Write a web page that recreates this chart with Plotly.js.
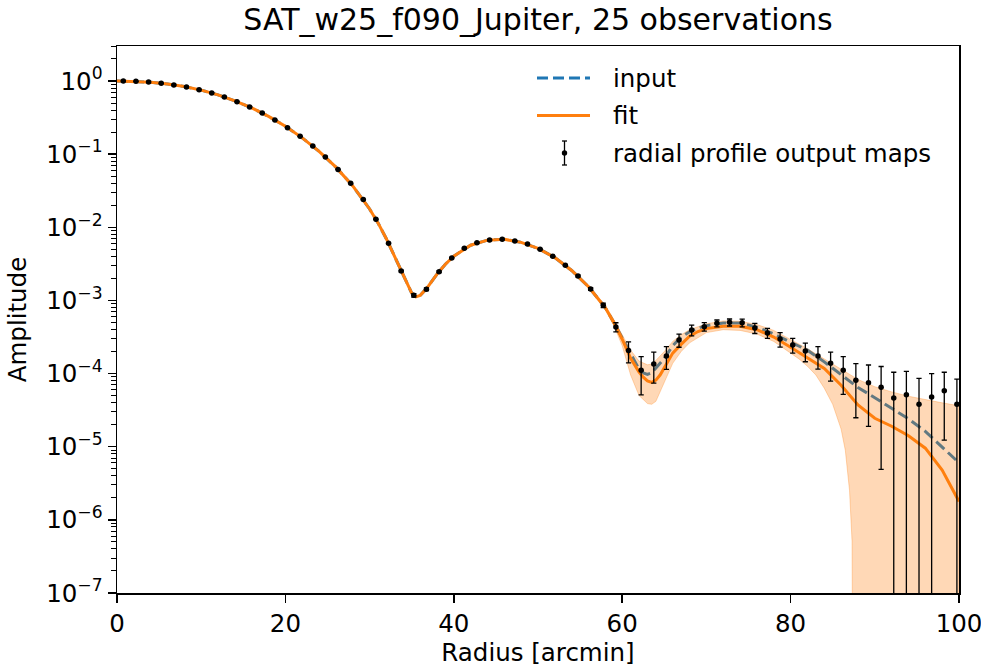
<!DOCTYPE html>
<html>
<head>
<meta charset="utf-8">
<script src="https://cdn.plot.ly/plotly-3.0.1.min.js"></script>
<style>
  html, body { margin: 0; padding: 0; background: #fff; }
  #chart { width: 981px; height: 671px; }
</style>
</head>
<body>
<div id="chart"></div>
<script>
// ---------- data ----------
// radial profile of the output maps (points with error bars)
var rData = [0.75, 2.25, 3.75, 5.25, 6.75, 8.25, 9.75, 11.25, 12.75, 14.25, 15.75, 17.25, 18.75, 20.25,
  21.75, 23.25, 24.75, 26.25, 27.75, 29.25, 30.75, 32.25, 33.75, 35.25, 36.75, 38.25, 39.75, 41.25,
  42.75, 44.25, 45.75, 47.25, 48.75, 50.25, 51.75, 53.25, 54.75, 56.25, 57.75, 59.25, 60.75, 62.25,
  63.75, 65.25, 66.75, 68.25, 69.75, 71.25, 72.75, 74.25, 75.75, 77.25, 78.75, 80.25, 81.75, 83.25,
  84.75, 86.25, 87.75, 89.25, 90.75, 92.25, 93.75, 95.25, 96.75, 98.25, 99.75];
var profileData = [1.000, 0.989, 0.969, 0.929, 0.882, 0.828, 0.761, 0.686, 0.604, 0.521, 0.441, 0.365,
  0.293, 0.230, 0.175, 0.129, 0.0914, 0.0619, 0.0399, 0.0239, 0.01285, 6.04e-3, 2.52e-3, 1.175e-3,
  1.42e-3, 2.47e-3, 3.80e-3, 5.16e-3, 6.15e-3, 6.70e-3, 6.85e-3, 6.49e-3, 5.91e-3, 5.00e-3, 4.01e-3,
  3.02e-3, 2.16e-3, 1.43e-3, 8.57e-4, 4.33e-4, 2.06e-4, 1.11e-4, 1.35e-4, 1.74e-4, 2.88e-4, 3.94e-4,
  4.38e-4, 4.87e-4, 5.02e-4, 4.96e-4, 4.20e-4, 3.59e-4, 2.97e-4, 2.46e-4, 2.03e-4, 1.74e-4, 1.38e-4,
  1.11e-4, 8.09e-5, 7.50e-5, 6.49e-5, 4.63e-5, 5.14e-5, 3.80e-5, 4.79e-5, 5.83e-5, 3.80e-5];
var profileErr = [6.2e-5, 6.1e-5, 6.3e-5, 6.0e-5, 6.2e-5, 5.9e-5, 6.1e-5, 6.0e-5, 6.2e-5, 6.1e-5,
  5.9e-5, 6.0e-5, 6.2e-5, 6.1e-5, 6.0e-5, 5.9e-5, 6.1e-5, 6.2e-5, 6.0e-5, 6.1e-5, 5.9e-5, 6.0e-5,
  6.1e-5, 6.2e-5, 6.0e-5, 6.1e-5, 5.9e-5, 6.0e-5, 6.2e-5, 6.1e-5, 6.0e-5, 5.9e-5, 6.1e-5, 6.0e-5,
  6.2e-5, 6.0e-5, 6.1e-5, 6.0e-5, 6.0e-5, 6.2e-5, 6.6e-5, 6.0e-5, 6.1e-5, 6.0e-5, 5.9e-5, 6.7e-5,
  5.8e-5, 5.3e-5, 5.5e-5, 6.0e-5, 6.7e-5, 5.7e-5, 6.7e-5, 5.6e-5, 5.8e-5, 5.9e-5, 5.9e-5, 5.9e-5,
  5.6e-5, 5.6e-5, 6.0e-5, 5.8e-5, 5.6e-5, 4.8e-5, 5.2e-5, 4.6e-5, 4.6e-5];

// model curves
var rModel = [0, 2, 4, 6, 8, 10, 12, 14, 16, 18, 20, 22, 24, 26, 28, 30, 31, 32, 33, 34, 34.5, 35, 35.5,
  36, 36.5, 37, 38, 39, 40, 42, 44, 46, 48, 50, 52, 54, 56, 58, 59, 60, 61, 62, 62.5, 63, 63.5, 64,
  64.5, 65, 66, 67, 68, 69, 70, 72, 73, 74, 76, 78, 80, 82, 84, 86, 88, 90, 92, 94, 96, 98, 100];
var inputProfile = [1.000, 0.991, 0.964, 0.908, 0.839, 0.750, 0.646, 0.535, 0.429, 0.328, 0.240, 0.167,
  0.109, 0.0664, 0.0367, 0.0178, 0.01148, 0.00692, 0.00398, 0.00224, 0.00166, 0.00126, 0.00112,
  0.00117, 0.00135, 0.00158, 0.00229, 0.00313, 0.00403, 0.00569, 0.00667, 0.00684, 0.00622, 0.00515,
  0.00385, 0.00257, 0.00154, 7.94e-4, 5.01e-4,
  3.02e-4, 1.82e-4, 1.148e-4, 1.023e-4, 9.77e-5, 1.023e-4, 1.175e-4, 1.38e-4, 1.62e-4, 2.40e-4,
  3.16e-4, 3.72e-4, 4.17e-4, 4.52e-4, 4.90e-4, 4.95e-4, 4.90e-4, 4.32e-4, 3.47e-4, 2.69e-4, 2.09e-4,
  1.445e-4, 9.77e-5, 6.46e-5, 4.68e-5, 3.31e-5, 2.40e-5, 1.62e-5, 1.00e-5, 6.03e-6];
var fitProfile = [1.000, 0.991, 0.964, 0.908, 0.839, 0.750, 0.646, 0.535, 0.429, 0.328, 0.240, 0.167,
  0.109, 0.0664, 0.0367, 0.0178, 0.01148, 0.00692, 0.00398, 0.00224, 0.00166, 0.00126, 0.00112,
  0.00117, 0.00135, 0.00158, 0.00229, 0.00313, 0.00403, 0.00569, 0.00667, 0.00684, 0.00622, 0.00515,
  0.00385, 0.00257, 0.00154, 7.94e-4, 5.01e-4,
  2.95e-4, 1.62e-4, 1.047e-4, 8.91e-5, 7.94e-5, 7.59e-5, 8.13e-5, 9.55e-5, 1.202e-4, 1.905e-4,
  2.51e-4, 3.24e-4, 3.76e-4, 4.12e-4, 4.42e-4, 4.47e-4, 4.42e-4, 3.98e-4, 3.16e-4, 2.29e-4, 1.62e-4,
  1.175e-4, 6.92e-5, 3.72e-5, 2.45e-5, 1.905e-5, 1.413e-5, 9.55e-6, 4.79e-6, 1.78e-6];

// uncertainty band of the fit (values below the axis floor are off-scale)
var rBand = [56, 58, 59, 60, 61, 62, 63, 63.5, 64, 65, 66, 67, 68, 70, 72, 74, 76, 78, 80, 81, 82, 83,
  84, 85, 86, 86.5, 87, 87.3, 87.5, 88, 90, 92, 94, 96, 98, 100];
var bandLower = [1.48e-3, 7.41e-4, 4.57e-4, 2.40e-4, 9.55e-5, 5.01e-5, 3.89e-5, 3.80e-5, 4.17e-5,
  7.76e-5, 1.38e-4, 2.00e-4, 2.63e-4, 3.63e-4, 3.98e-4, 3.89e-4, 3.47e-4, 2.75e-4, 1.905e-4,
  1.585e-4, 1.259e-4, 9.55e-5, 6.31e-5, 3.80e-5, 1.74e-5, 8.91e-6, 2.51e-6, 5.01e-7,
  1e-12, 1e-12, 1e-12, 1e-12, 1e-12, 1e-12, 1e-12, 1e-12];
var bandUpper = [1.62e-3, 8.51e-4, 5.50e-4, 3.39e-4, 2.09e-4, 1.48e-4, 1.318e-4, 1.349e-4, 1.514e-4,
  2.00e-4, 2.75e-4, 3.39e-4, 3.98e-4, 4.79e-4, 5.25e-4, 5.19e-4, 4.68e-4, 3.89e-4, 2.95e-4, 2.57e-4,
  2.19e-4, 1.86e-4, 1.585e-4, 1.349e-4, 1.148e-4, 1.047e-4, 9.55e-5, 9.12e-5, 8.91e-5, 8.32e-5,
  6.61e-5, 5.62e-5, 4.90e-5, 4.37e-5, 3.98e-5, 3.63e-5];

// axis ticks and texts
var xTickVals = [0, 20, 40, 60, 80, 100];
var yTickVals = [1, 1e-1, 1e-2, 1e-3, 1e-4, 1e-5, 1e-6, 1e-7];
var yTickText = ['10<sup>0</sup>', '10<sup>\u22121</sup>', '10<sup>\u22122</sup>', '10<sup>\u22123</sup>',
  '10<sup>\u22124</sup>', '10<sup>\u22125</sup>', '10<sup>\u22126</sup>', '10<sup>\u22127</sup>'];
var titleText = 'SAT_w25_f090_Jupiter, 25 observations';
var seriesNames = ['input', 'fit', 'radial profile output maps'];

// ---------- geometry helpers (plot area in pixels) ----------
var W = 981, H = 671, ML = 117, MR = 22, MT = 46, MB = 78;
var PW = W - ML - MR, PH = H - MT - MB;
function px(x) { return (x - ML) / PW; }
function py(y) { return 1 - (y - MT) / PH; }

var FONT = 'DejaVu Sans, Verdana, sans-serif';
var BLUE = '#1f77b4', ORANGE = '#ff7f0e';

// ---------- traces ----------
var bandX = rBand.concat(rBand.slice().reverse());
var bandY = bandUpper.concat(bandLower.slice().reverse());

var traces = [
  {
    x: rModel, y: inputProfile, type: 'scatter', mode: 'lines', name: seriesNames[0],
    line: {color: BLUE, width: 3, dash: '11px,5px'}
  },
  {
    x: bandX, y: bandY, type: 'scatter', mode: 'lines', fill: 'toself',
    fillcolor: 'rgba(255,127,14,0.3)', line: {color: 'rgba(255,127,14,0.3)', width: 1},
    hoverinfo: 'skip'
  },
  {
    x: rModel, y: fitProfile, type: 'scatter', mode: 'lines', name: seriesNames[1],
    line: {color: ORANGE, width: 3}
  },
  {
    x: rData, y: profileData, type: 'scatter', mode: 'markers', name: seriesNames[2],
    marker: {color: '#000', size: 5.5},
    error_y: {type: 'data', array: profileErr, visible: true, color: '#000', thickness: 1.3, width: 2.6}
  }
];

// ---------- legend (drawn in paper space) ----------
var legSampleX0 = 537, legSampleX1 = 590, legTextX = 611;
var legRowsY = [78, 115.5, 153];
var shapes = [
  {type: 'line', xref: 'paper', yref: 'paper', x0: px(legSampleX0), x1: px(legSampleX1),
    y0: py(legRowsY[0]), y1: py(legRowsY[0]), line: {color: BLUE, width: 3, dash: '11px,5px'}},
  {type: 'line', xref: 'paper', yref: 'paper', x0: px(legSampleX0), x1: px(legSampleX1),
    y0: py(legRowsY[1]), y1: py(legRowsY[1]), line: {color: ORANGE, width: 3}},
  {type: 'line', xref: 'paper', yref: 'paper', x0: px(564.5), x1: px(564.5),
    y0: py(legRowsY[2] - 12), y1: py(legRowsY[2] + 12), line: {color: '#000', width: 1.3}},
  {type: 'line', xref: 'paper', yref: 'paper', x0: px(562), x1: px(567),
    y0: py(legRowsY[2] - 12), y1: py(legRowsY[2] - 12), line: {color: '#000', width: 1.3}},
  {type: 'line', xref: 'paper', yref: 'paper', x0: px(562), x1: px(567),
    y0: py(legRowsY[2] + 12), y1: py(legRowsY[2] + 12), line: {color: '#000', width: 1.3}},
  {type: 'circle', xref: 'paper', yref: 'paper', x0: px(561.8), x1: px(567.2),
    y0: py(legRowsY[2] - 2.7), y1: py(legRowsY[2] + 2.7), fillcolor: '#000', line: {width: 0}}
];
var annotations = seriesNames.map(function (name, i) {
  return {
    text: name, xref: 'paper', yref: 'paper', x: px(legTextX), y: py(legRowsY[i]),
    xanchor: 'left', yanchor: 'middle', showarrow: false,
    font: {family: FONT, size: 24.5, color: '#000'}
  };
});

var layout = {
  width: W, height: H,
  paper_bgcolor: '#fff', plot_bgcolor: '#fff',
  margin: {l: ML, r: MR, t: MT, b: MB, pad: 0},
  font: {family: FONT, size: 24.5, color: '#000'},
  title: {
    text: titleText, font: {family: FONT, size: 30, color: '#000'},
    xref: 'paper', x: 0.5, xanchor: 'center', yref: 'container', y: 1 - 19 / H, yanchor: 'middle'
  },
  showlegend: false,
  shapes: shapes,
  annotations: annotations,
  xaxis: {
    type: 'linear', range: [0, 100], tickmode: 'array', tickvals: xTickVals,
    ticks: 'outside', ticklen: 8, tickwidth: 1.5, tickcolor: '#000',
    ticklabeloverflow: 'allow',
    showline: true, linecolor: '#000', linewidth: 1.5, mirror: true,
    showgrid: false, zeroline: false,
    tickfont: {family: FONT, size: 24.5, color: '#000'},
    title: {text: 'Radius [arcmin]', font: {family: FONT, size: 24.5, color: '#000'}, standoff: 6}
  },
  yaxis: {
    type: 'log', range: [-7, 0.4785], tickmode: 'array', tickvals: yTickVals, ticktext: yTickText,
    ticks: 'outside', ticklen: 8, tickwidth: 1.5, tickcolor: '#000',
    minor: {ticks: 'outside', ticklen: 4.5, tickwidth: 1, tickcolor: '#000', dtick: 'D1', showgrid: false},
    showline: true, linecolor: '#000', linewidth: 1.5, mirror: true,
    showgrid: false, zeroline: false,
    tickfont: {family: FONT, size: 24.5, color: '#000'},
    title: {text: 'Amplitude', font: {family: FONT, size: 24.5, color: '#000'}, standoff: 12}
  }
};

Plotly.newPlot('chart', traces, layout, {displayModeBar: false, staticPlot: true});
</script>
</body>
</html>
